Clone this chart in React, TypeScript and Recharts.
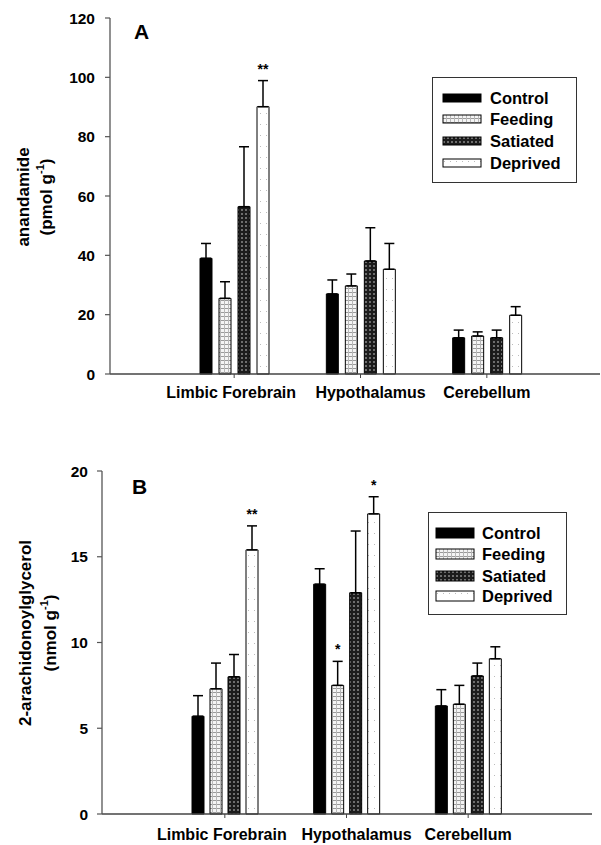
import React from 'react';
import { BarChart, Bar, XAxis, YAxis, ErrorBar, LabelList, Legend } from 'recharts';

const regions = ['Limbic Forebrain', 'Hypothalamus', 'Cerebellum'];
const groupNames = ['Control', 'Feeding', 'Satiated', 'Deprived'];
const groupKeys = ['control', 'feeding', 'satiated', 'deprived'];

// Panel A: anandamide (pmol g-1)
const aControl = [39, 27, 12.2];
const aControlErr = [5, 4.7, 2.6];
const aFeeding = [25.5, 29.7, 12.8];
const aFeedingErr = [5.6, 4, 1.4];
const aSatiated = [56.4, 38.1, 12.2];
const aSatiatedErr = [20.2, 11.2, 2.6];
const aDeprived = [90.1, 35.3, 19.8];
const aDeprivedErr = [8.8, 8.7, 2.9];
const aSig = [['', '', ''], ['', '', ''], ['', '', ''], ['**', '', '']];
const aTicks = [0, 20, 40, 60, 80, 100, 120];

// Panel B: 2-arachidonoylglycerol (nmol g-1)
const bControl = [5.7, 13.4, 6.3];
const bControlErr = [1.2, 0.9, 0.95];
const bFeeding = [7.3, 7.5, 6.4];
const bFeedingErr = [1.5, 1.4, 1.1];
const bSatiated = [8.0, 12.9, 8.05];
const bSatiatedErr = [1.3, 3.6, 0.75];
const bDeprived = [15.4, 17.5, 9.05];
const bDeprivedErr = [1.4, 1.0, 0.7];
const bSig = [['', '', ''], ['', '*', ''], ['', '', ''], ['**', '*', '']];
const bTicks = [0, 5, 10, 15, 20];

const FONT = '"Liberation Sans", Arial, Helvetica, sans-serif';
const fills = ['#000000', 'url(#pFeed)', 'url(#pSat)', 'url(#pDep)'];
// small horizontal nudges of the category labels, as in the original figure
const labelNudge = [-3, 10, 0];

function buildRows(values: number[][], errs: number[][], sigs: string[][]) {
  return regions.map((region, i) => {
    const row: any = { region };
    groupKeys.forEach((k, g) => {
      row[k] = values[g][i];
      row[k + 'Err'] = [0, errs[g][i]];
      row[k + 'Sig'] = sigs[g][i];
    });
    return row;
  });
}

const aValues = [aControl, aFeeding, aSatiated, aDeprived];
const aErrs = [aControlErr, aFeedingErr, aSatiatedErr, aDeprivedErr];
const bValues = [bControl, bFeeding, bSatiated, bDeprived];
const bErrs = [bControlErr, bFeedingErr, bSatiatedErr, bDeprivedErr];
const aRows = buildRows(aValues, aErrs, aSig);
const bRows = buildRows(bValues, bErrs, bSig);

const sigLabel = (vals: number[], errs: number[]) => (props: any) => {
  const { x, y, width, height, value, index } = props;
  if (!value) return null;
  const v = vals[index];
  const ppu = Number(height) / v;
  const top = Number(y) - errs[index] * ppu;
  return (
    <text x={Number(x) + Number(width) / 2} y={top - 7} textAnchor="middle" fontSize={14} fontWeight="bold" fontFamily={FONT} fill="#000">
      {value}
    </text>
  );
};

const XTick = (props: any) => {
  const { x, y, payload, index } = props;
  const dx = labelNudge[index] || 0;
  return (
    <text x={Number(x) + dx} y={Number(y)} dy="0.71em" textAnchor="middle" fontFamily={FONT} fontWeight="bold" fontSize={16} fill="#000">
      {payload.value}
    </text>
  );
};

const Patterns = () => (
  <svg width={0} height={0} style={{ position: 'absolute', left: 0, top: 0 }}>
    <defs>
      <pattern id="pFeed" width="4" height="4" patternUnits="userSpaceOnUse">
        <rect width="4" height="4" fill="#f4f4f4" />
        <rect x="0" y="0" width="4" height="1" fill="#9a9a9a" />
        <rect x="0" y="0" width="1" height="4" fill="#b8b8b8" />
      </pattern>
      <pattern id="pSat" width="4" height="4" patternUnits="userSpaceOnUse">
        <rect width="4" height="4" fill="#1c1c1c" />
        <rect x="1" y="1" width="2" height="2" fill="#6e6e6e" />
      </pattern>
      <pattern id="pDep" width="6" height="11" patternUnits="userSpaceOnUse">
        <rect width="6" height="11" fill="#ffffff" />
        <rect x="2" y="3" width="1" height="1" fill="#bbbbbb" />
      </pattern>
    </defs>
  </svg>
);

type LegendCfg = { swatchX: number; swatchW: number; swatchH: number; textX: number; rowY: number[] };

const LegendBox = ({ cfg }: { cfg: LegendCfg }) => (
  <div style={{ position: 'relative', width: '100%', height: '100%', border: '1.3px solid #333', boxSizing: 'border-box', background: '#fff' }}>
    {groupNames.map((name, i) => (
      <React.Fragment key={name}>
        <svg width={cfg.swatchW + 2} height={cfg.swatchH + 2} style={{ position: 'absolute', left: cfg.swatchX - 1, top: cfg.rowY[i] - cfg.swatchH / 2 - 1 }}>
          <rect x={1} y={1} width={cfg.swatchW} height={cfg.swatchH} fill={fills[i]} stroke="#000" strokeWidth={1} />
        </svg>
        <div style={{ position: 'absolute', left: cfg.textX, top: cfg.rowY[i] - 10, height: 20, lineHeight: '20px', fontFamily: FONT, fontWeight: 'bold', fontSize: 16.5, color: '#000', whiteSpace: 'nowrap' }}>
          {name}
        </div>
      </React.Fragment>
    ))}
  </div>
);

type PanelProps = {
  rows: any[];
  values: number[][];
  errs: number[][];
  ticks: number[];
  domainMax: number;
  height: number;
  margin: { top: number; right: number; bottom: number; left: number };
  padding: { left: number; right: number };
  barGap: number;
  letter: string;
  letterPos: { x: number; y: number };
  title1: string;
  titleUnit: string;
  titleX: [number, number];
  titleY: number;
  legendStyle: any;
  legendCfg: LegendCfg;
  xTickMargin: number;
  yTickMargin: number;
};

const Panel = (p: PanelProps) => (
  <BarChart width={601} height={p.height} data={p.rows} margin={p.margin} barSize={12} barGap={p.barGap}>
    <XAxis
      dataKey="region"
      padding={p.padding}
      interval={0}
      axisLine={{ stroke: '#444', strokeWidth: 1.3 }}
      tickLine={{ stroke: '#444', strokeWidth: 1 }}
      tickSize={4}
      tickMargin={p.xTickMargin}
      height={30}
      tick={<XTick />}
    />
    <YAxis
      domain={[0, p.domainMax]}
      ticks={p.ticks}
      interval={0}
      width={60}
      axisLine={{ stroke: '#555', strokeWidth: 1.3 }}
      tickLine={{ stroke: '#555', strokeWidth: 1.2 }}
      tickSize={5}
      tickMargin={p.yTickMargin}
      tick={{ fontFamily: FONT, fontWeight: 'bold', fontSize: 15.5, fill: '#000' }}
      label={{
        content: () => (
          <g fontFamily={FONT} fontWeight="bold" fontSize={17} fill="#000">
            <text transform={`translate(${p.titleX[0]},${p.titleY}) rotate(-90)`} textAnchor="middle" dominantBaseline="central">
              {p.title1}
            </text>
            <text transform={`translate(${p.titleX[1]},${p.titleY}) rotate(-90)`} textAnchor="middle" dominantBaseline="central">
              {`(${p.titleUnit} g`}
              <tspan fontSize={11} dy={-6}>-1</tspan>
              <tspan dy={6}>)</tspan>
            </text>
          </g>
        ),
      }}
    />
    <Legend
      layout="horizontal"
      verticalAlign="middle"
      align="center"
      wrapperStyle={p.legendStyle}
      content={() => <LegendBox cfg={p.legendCfg} />}
    />
    {groupKeys.map((k, g) => (
      <Bar key={k} dataKey={k} name={groupNames[g]} fill={fills[g]} stroke="#000" strokeWidth={1} isAnimationActive={false}>
        <ErrorBar dataKey={k + 'Err'} direction="y" width={5} stroke="#000" strokeWidth={1.5} />
        <LabelList dataKey={k + 'Sig'} content={sigLabel(p.values[g], p.errs[g])} />
      </Bar>
    ))}
    <text x={p.letterPos.x} y={p.letterPos.y} fontFamily={FONT} fontWeight="bold" fontSize={21} fill="#000">
      {p.letter}
    </text>
  </BarChart>
);

export default function App() {
  return (
    <div style={{ position: 'absolute', left: 0, top: 0, width: 601, height: 845, background: '#fff', overflow: 'hidden' }}>
      <Patterns />
      <div style={{ position: 'absolute', left: 0, top: 0 }}>
        <Panel
          rows={aRows}
          values={aValues}
          errs={aErrs}
          ticks={aTicks}
          domainMax={120}
          height={420}
          margin={{ top: 18, right: 1, bottom: 16, left: 50 }}
          padding={{ left: 61, right: 50 }}
          barGap={7}
          letter="A"
          letterPos={{ x: 134, y: 39 }}
          title1="anandamide"
          titleUnit="pmol"
          titleX={[23, 46]}
          titleY={197}
          legendStyle={{ left: 432, top: 77, width: 145, height: 106 }}
          legendCfg={{ swatchX: 10, swatchW: 38, swatchH: 8, textX: 57, rowY: [20, 41, 63, 85] }}
          xTickMargin={9}
          yTickMargin={10}
        />
      </div>
      <div style={{ position: 'absolute', left: 0, top: 420 }}>
        <Panel
          rows={bRows}
          values={bValues}
          errs={bErrs}
          ticks={bTicks}
          domainMax={20}
          height={425}
          margin={{ top: 51, right: 9, bottom: 1, left: 42 }}
          padding={{ left: 62, right: 63 }}
          barGap={6}
          letter="B"
          letterPos={{ x: 132, y: 74 }}
          title1="2-arachidonoylglycerol"
          titleUnit="nmol"
          titleX={[25, 50]}
          titleY={213}
          legendStyle={{ left: 428, top: 92, width: 139, height: 103 }}
          legendCfg={{ swatchX: 7, swatchW: 38, swatchH: 10, textX: 53, rowY: [20, 41, 63, 83] }}
          xTickMargin={11}
          yTickMargin={9}
        />
      </div>
    </div>
  );
}
